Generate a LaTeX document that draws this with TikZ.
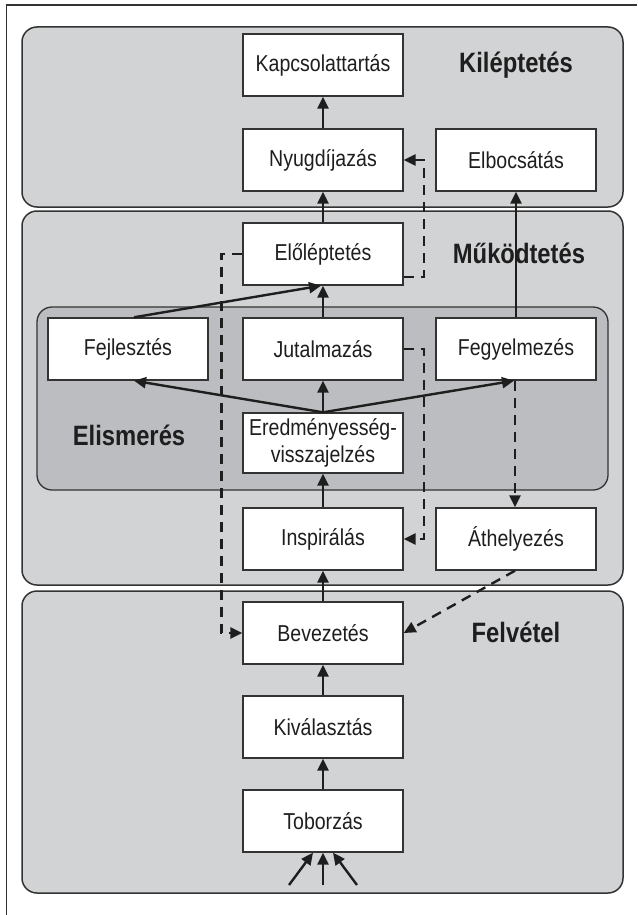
\documentclass[tikz,border=0pt]{standalone}
\usepackage{fontspec}
\setmainfont{Liberation Sans}[FakeStretch=0.85]
\usetikzlibrary{arrows.meta,calc}
\definecolor{panelgray}{HTML}{D2D3D5}
\definecolor{innergray}{HTML}{BCBDC0}
\definecolor{edge}{HTML}{333333}
\definecolor{ink}{HTML}{1E1E1E}
\begin{document}
\begin{tikzpicture}[x=1pt,y=-1pt,
  panel/.style={draw=edge,line width=1.5pt,fill=panelgray,rounded corners=15pt},
  innerpanel/.style={draw=edge,line width=1.3pt,fill=innergray,rounded corners=15pt},
  stepbox/.style={draw=edge,line width=1.4pt,fill=white,minimum width=160pt,
    minimum height=62pt,inner sep=0pt,align=center,text=ink,
    font=\fontsize{23}{27}\selectfont},
  phase/.style={anchor=base,text=ink,font=\fontsize{28}{32}\selectfont\bfseries},
  arr/.style={draw=ink,line width=2.4pt,-{Triangle[length=12pt,width=11pt]}},
  dasharr/.style={draw=ink,line width=2.4pt,dash pattern=on 10pt off 7pt,
    -{Triangle[length=12pt,width=11pt]}}]
\useasboundingbox (0,0) rectangle (637,915);
\fill[white] (0,0) rectangle (637,915);
% page frame: top rule and left rule
\draw[edge,line width=1.3pt] (637,5) -- (6.5,5) -- (6.5,915);

% phase panels
\draw[panel] (22,27) rectangle (623,207);
\draw[panel] (22,211) rectangle (623,585);
\draw[innerpanel] (37,307) rectangle (608,490);
\draw[panel] (22,591) rectangle (623,893);

% phase titles
\node[phase] (tkil) at (516,73) {Kiléptetés};
\node[phase] (tmuk) at (519,263) {Működtetés};
\node[phase] (telis) at (129,445) {Elismerés};
\node[phase] (tfel) at (516,642) {Felvétel};

% process steps
\node[stepbox] (kap)  at (323,65)  {Kapcsolattartás};
\node[stepbox] (nyug) at (323,160) {Nyugdíjazás};
\node[stepbox] (elb)  at (516,160) {Elbocsátás};
\node[stepbox] (elo)  at (323,254) {Előléptetés};
\node[stepbox] (fej)  at (128,349) {Fejlesztés};
\node[stepbox] (jut)  at (323,349) {Jutalmazás};
\node[stepbox] (fegy) at (516,349) {Fegyelmezés};
\node[stepbox,minimum height=60pt] (ered) at (323,443) {Eredményesség-\\visszajelzés};
\node[stepbox] (insp) at (323,539) {Inspirálás};
\node[stepbox] (ath)  at (516,539) {Áthelyezés};
\node[stepbox] (bev)  at (323,633) {Bevezetés};
\node[stepbox] (kiv)  at (323,727) {Kiválasztás};
\node[stepbox] (tob)  at (323,821) {Toborzás};

% incoming sources below Toborzás
\coordinate (in1) at (289,885);
\coordinate (in2) at (323,885);
\coordinate (in3) at (357,885);

% main flow
\draw[arr] (tob) -- (kiv);
\draw[arr] (kiv) -- (bev);
\draw[arr] (bev) -- (insp);
\draw[arr] (insp) -- (ered);
\draw[arr] (ered) -- (jut);
\draw[arr] (ered.north) -- ($(fej.south)+(6,0)$);
\draw[arr] (ered.north) -- ($(fegy.south)+(-2,0)$);
\draw[arr] (jut) -- (elo);
\draw[arr] ($(fej.north)+(6,0)$) -- ($(elo.south)+(-2,0)$);
\draw[arr] (elo) -- (nyug);
\draw[arr] (nyug) -- (kap);
\draw[arr] (fegy) -- (elb);
\draw[arr] (in1) -- ($(tob.south)+(-10,0)$);
\draw[arr] (in2) -- (tob.south);
\draw[arr] (in3) -- ($(tob.south)+(10,0)$);

% alternative (dashed) paths
\draw[dasharr] ($(elo.south east)+(0,-9)$) -- ++(20,0) |- (nyug.east);
\draw[dasharr] (elo.west) -- ++(-21,0) |- (bev.west);
\draw[dasharr] (jut.east) -- ++(20,0) |- (insp.east);
\draw[dasharr] ($(fegy.south)+(-1,0)$) -- ($(ath.north)+(-1,0)$);
\draw[dasharr] ($(ath.south)+(-1,0)$) -- (bev.east);
\end{tikzpicture}
\end{document}
